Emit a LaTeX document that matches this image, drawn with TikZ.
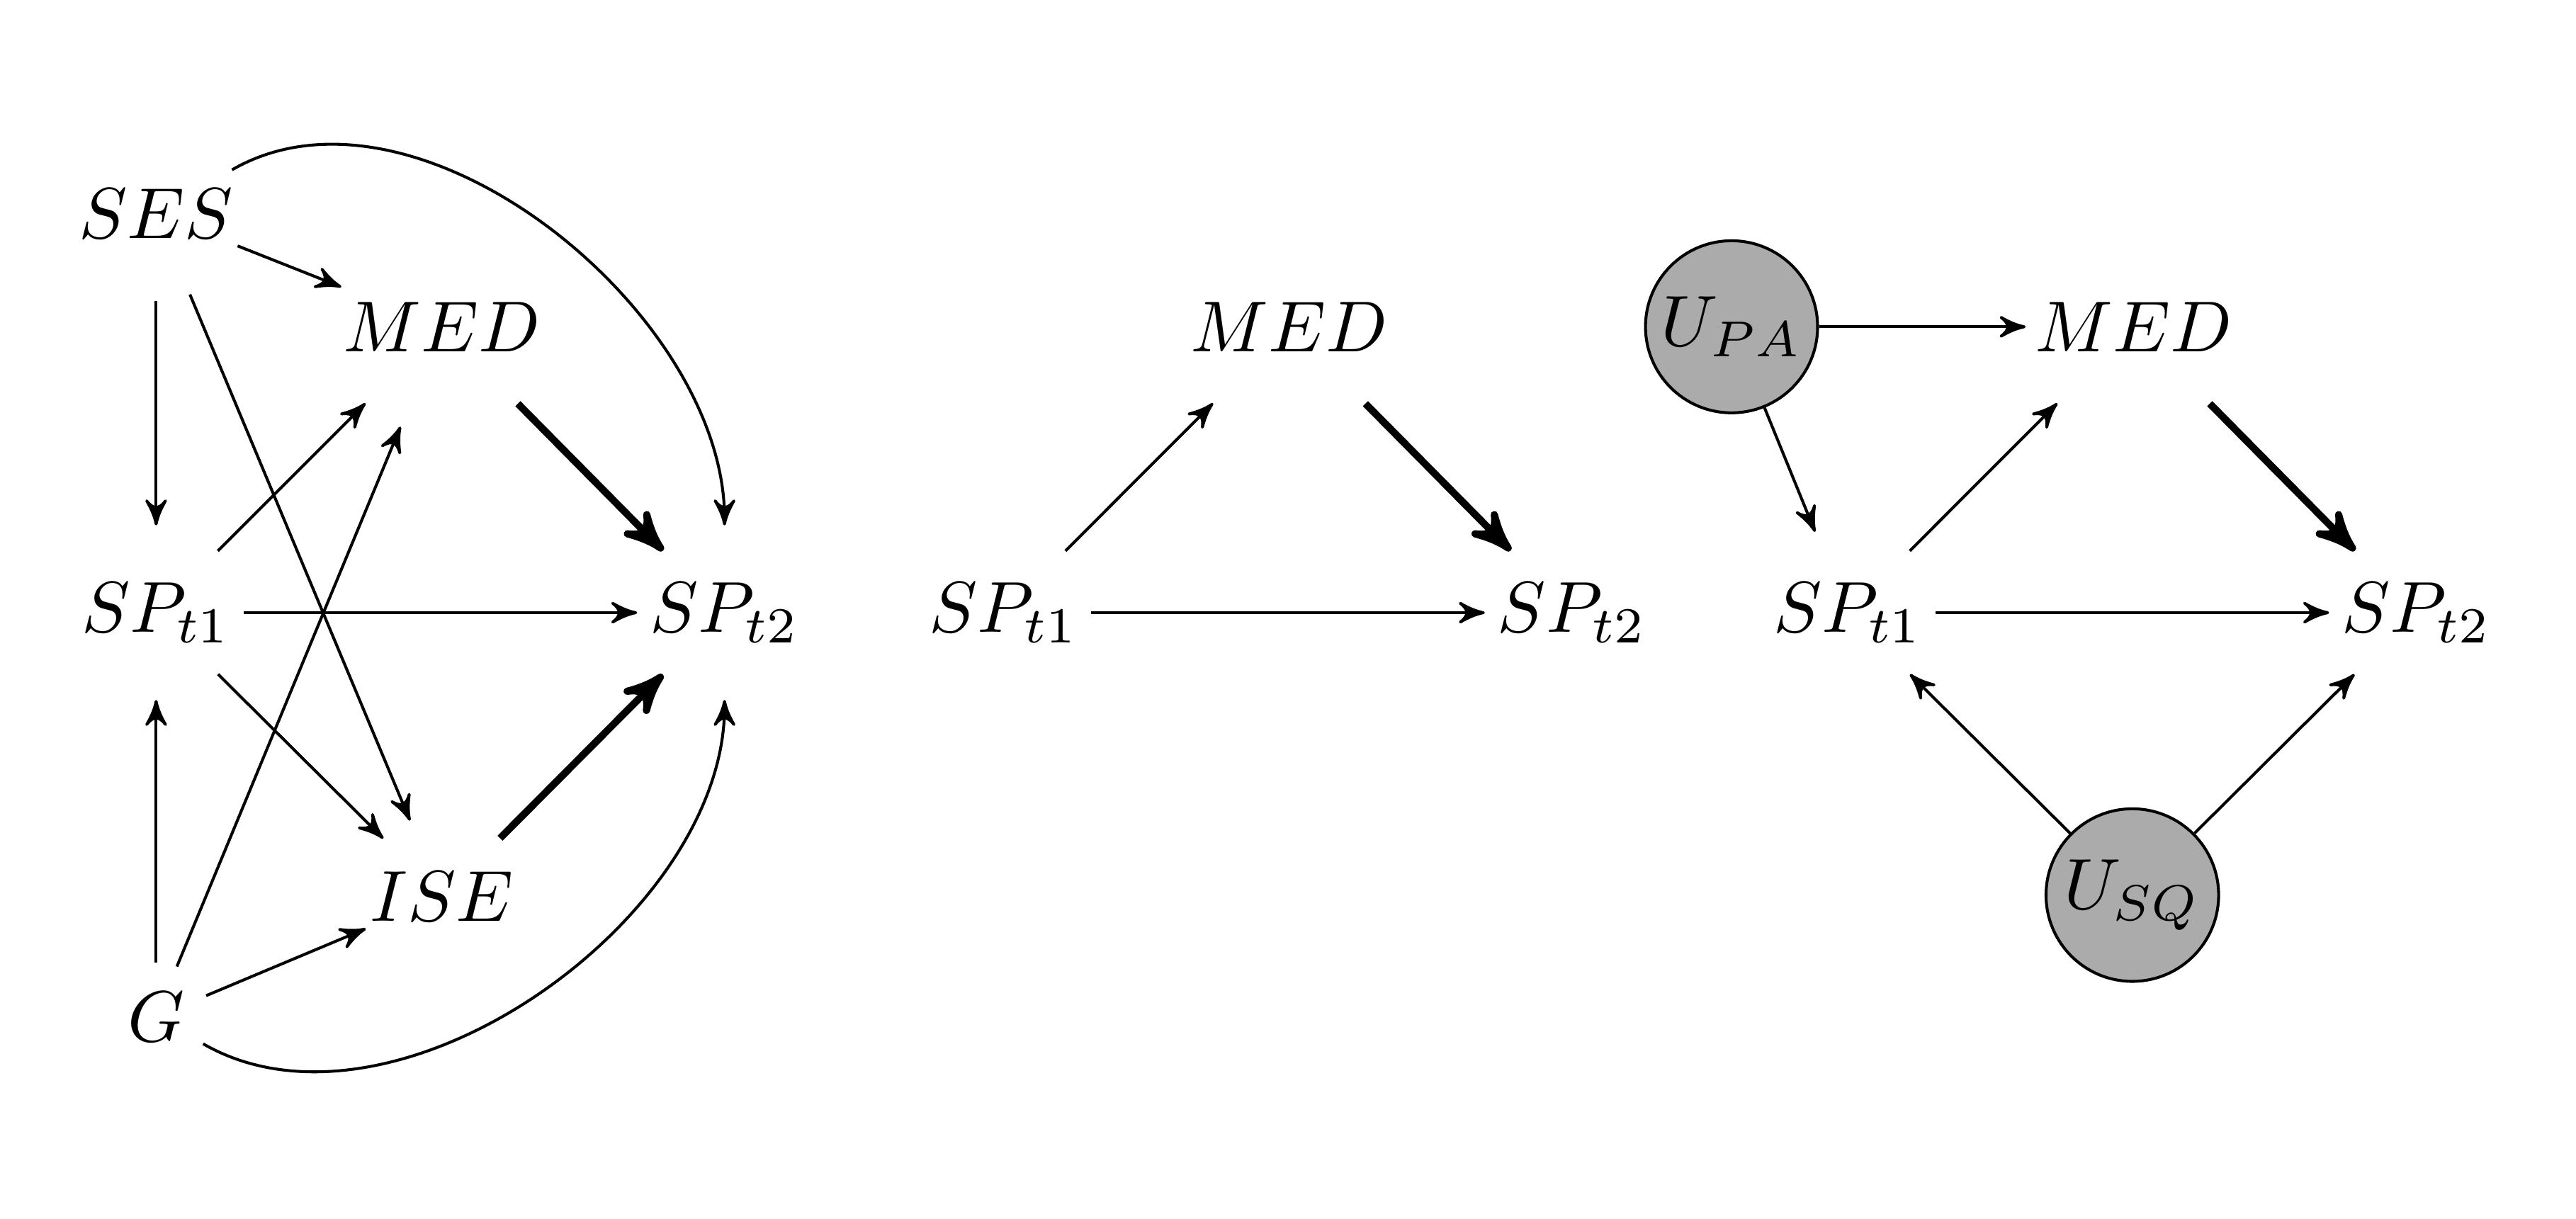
\documentclass[tikz,border=0pt]{standalone}
\usetikzlibrary{arrows,positioning}

\begin{document}
\begin{tikzpicture}[
    on grid,
    >=stealth',
    var/.style={circle,inner sep=0.6pt},
    latent/.style={circle,draw,fill=black!33,minimum size=8.3mm,inner sep=1pt},
    effect/.style={->},
    mediated/.style={->,line width=1pt}
  ]
    \useasboundingbox (0,0) rectangle (12.54,-5.935);

    % full model
    \node[var] (spa1) at (0.76,-2.983) {$SP_{t1}$};
    \node[var,right=2.767cm of spa1] (spa2) {$SP_{t2}$};
    \node[var,above right=1.392cm and 1.391cm of spa1] (meda) {$MED$};
    \node[var,below right=1.383cm and 1.391cm of spa1] (ise) {$ISE$};
    \node[var,above=1.943cm of spa1] (ses) {$SES$};
    \node[var,below=1.967cm of spa1,inner sep=1.5pt] (g) {$G$};

    \draw[effect] (ses) -- (spa1);
    \draw[effect] (ses) -- (meda);
    \draw[effect] (ses) -- (ise);
    \draw[effect] (ses) to[out=30,in=90,looseness=0.9] (spa2);
    \draw[effect] (spa1) -- (meda);
    \draw[effect] (spa1) -- (spa2);
    \draw[effect] (spa1) -- (ise);
    \draw[effect] (g) -- (spa1);
    \draw[effect] (g) -- (meda);
    \draw[effect] (g) -- (ise);
    \draw[effect] (g) to[out=-30,in=-90,looseness=0.9] (spa2);
    \draw[mediated] (meda) -- (spa2);
    \draw[mediated] (ise) -- (spa2);

    % reduced model
    \node[var] (spb1) at (4.886,-2.983) {$SP_{t1}$};
    \node[var,right=2.767cm of spb1] (spb2) {$SP_{t2}$};
    \node[var,above right=1.392cm and 1.391cm of spb1] (medb) {$MED$};

    \draw[effect] (spb1) -- (medb);
    \draw[effect] (spb1) -- (spb2);
    \draw[mediated] (medb) -- (spb2);

    % unobserved confounders
    \node[var] (spc1) at (8.996,-2.983) {$SP_{t1}$};
    \node[var,right=2.767cm of spc1] (spc2) {$SP_{t2}$};
    \node[var,above right=1.392cm and 1.391cm of spc1] (medc) {$MED$};
    \node[latent,above left=1.392cm and 0.567cm of spc1] (upa) {$U_{PA}$};
    \node[latent,below right=1.375cm and 1.384cm of spc1] (usq) {$U_{SQ}$};

    \draw[effect] (upa) -- (medc);
    \draw[effect] (upa) -- (spc1);
    \draw[effect] (spc1) -- (medc);
    \draw[effect] (spc1) -- (spc2);
    \draw[mediated] (medc) -- (spc2);
    \draw[effect] (usq) -- (spc1);
    \draw[effect] (usq) -- (spc2);
\end{tikzpicture}
\end{document}
